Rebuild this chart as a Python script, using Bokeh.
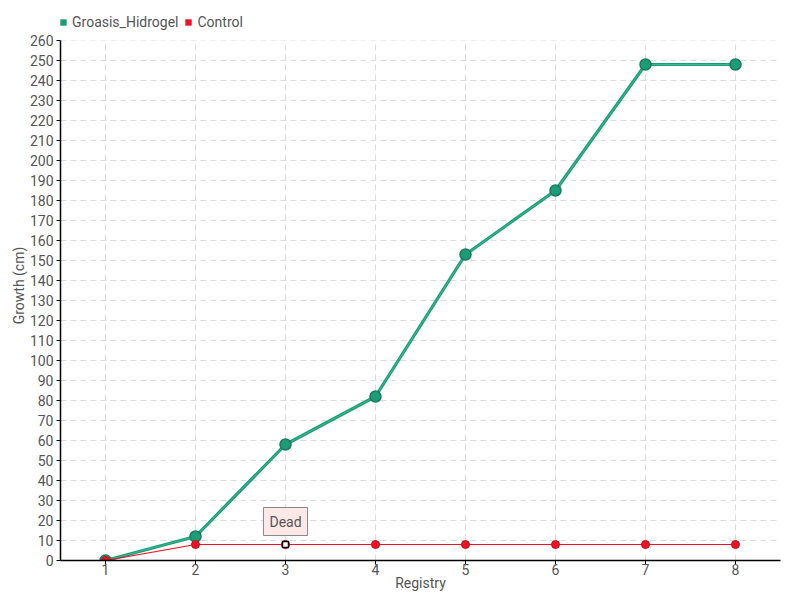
from bokeh.plotting import figure
from bokeh.models import (ColumnDataSource, Legend, LegendItem, Label, FixedTicker,
                          Range1d, BoxAnnotation)
from bokeh.embed import file_html
from bokeh.resources import INLINE

registry = [1, 2, 3, 4, 5, 6, 7, 8]
groasis = [0, 12, 58, 82, 153, 185, 248, 248]
control = [0, 8, 8, 8, 8, 8, 8, 8]
y_ticks = list(range(0, 261, 10))
dead_x = 3
dead_y = 8

FONT = "Roboto"
TXT = "#555555"
GREEN = "#1b9e77"
GREEN_DARK = "#1c7a5f"
RED = "#ee1126"

y_top = y_ticks[-1]
# frame extends above the last tick to host the legend (2 px per unit)
p = figure(width=800, height=600, output_backend="svg", toolbar_location=None,
           x_range=Range1d(0.5, 8.5), y_range=Range1d(0, y_top + 15),
           min_border_left=60, min_border_right=20, min_border_top=10,
           min_border_bottom=40)
p.outline_line_color = None

# hide grid above the top tick
p.add_layout(BoxAnnotation(bottom=y_top, fill_color="white", fill_alpha=1,
                           line_color=None, level="underlay"))

src_g = ColumnDataSource(dict(x=registry, y=groasis))
src_c = ColumnDataSource(dict(x=registry, y=control))

p.line("x", "y", source=src_g, line_color=GREEN, line_width=3.2)
p.line("x", "y", source=src_g, line_color="#4fc4a3", line_width=1, line_alpha=0.6)
p.scatter("x", "y", source=src_g, size=11, fill_color=GREEN, line_color=GREEN_DARK,
          line_width=1.5)
p.line("x", "y", source=src_c, line_color=RED, line_width=1.2)
p.scatter("x", "y", source=src_c, size=8, fill_color=RED, line_color="#c8101e")

# dead marker
p.scatter([dead_x], [dead_y], marker="square", size=6, fill_color="white",
          line_color="black", line_width=1.5)
lbl = Label(x=dead_x, y=dead_y, text="Dead", x_units="data", y_units="data",
            text_align="center", text_baseline="bottom", y_offset=9,
            text_font=FONT, text_font_size="14px", text_color=TXT,
            background_fill_color="#fde8e8", border_line_color="#888888",
            padding=6)
p.add_layout(lbl)

# legend swatches (off-range points so only the legend glyph is visible)
lg = p.scatter([-10], [-10], marker="square", size=7, fill_color=GREEN, line_color=None)
lc = p.scatter([-10], [-10], marker="square", size=7, fill_color=RED, line_color=None)
legend = Legend(items=[LegendItem(label="Groasis_Hidrogel", renderers=[lg]),
                       LegendItem(label="Control", renderers=[lc])],
                orientation="horizontal", location=(-5, 530),
                background_fill_alpha=0, border_line_color=None,
                label_text_font=FONT, label_text_font_size="14px",
                label_text_color=TXT, glyph_width=16, glyph_height=16,
                label_height=16, label_standoff=1, spacing=2, padding=0, margin=0)
p.add_layout(legend, "center")

for ax in (p.xaxis[0], p.yaxis[0]):
    ax.axis_line_color = "black"
    ax.axis_line_width = 1.5
    ax.major_tick_line_color = "black"
    ax.minor_tick_line_color = None
    ax.major_label_text_font = FONT
    ax.major_label_text_font_size = "14px"
    ax.major_label_text_color = TXT
    ax.axis_label_text_font = FONT
    ax.axis_label_text_font_size = "14px"
    ax.axis_label_text_color = TXT
    ax.axis_label_text_font_style = "normal"
    ax.major_tick_in = 0
    ax.major_tick_out = 4

p.yaxis.bounds = (y_ticks[0], y_top)
p.xaxis.ticker = FixedTicker(ticks=registry)
p.yaxis.ticker = FixedTicker(ticks=y_ticks)
p.xaxis.axis_label = "Registry"
p.yaxis.axis_label = "Growth (cm)"
p.xaxis.axis_label_standoff = -3
p.yaxis.axis_label_standoff = 0
p.xaxis.major_label_standoff = -1
p.yaxis.major_label_standoff = 3

p.grid.grid_line_color = "#dddddd"
p.grid.grid_line_dash = "6 4"
p.xgrid.ticker = FixedTicker(ticks=registry)
p.ygrid.ticker = FixedTicker(ticks=y_ticks)

open("out.html", "w").write(file_html(p, INLINE))
